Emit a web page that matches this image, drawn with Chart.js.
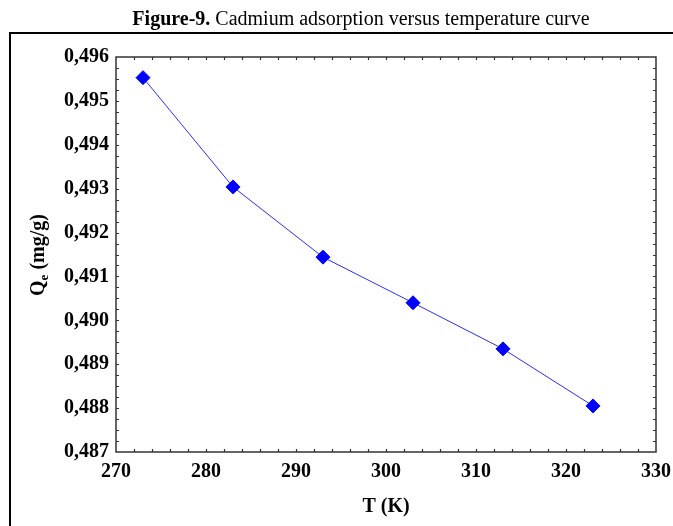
<!DOCTYPE html>
<html><head><meta charset="utf-8">
<script src="https://cdn.jsdelivr.net/npm/chart.js@4.4.0/dist/chart.umd.min.js"></script>
<style>html,body{margin:0;padding:0;background:#fff;overflow:hidden}#wrap{position:relative;width:673px;height:526px}</style>
</head><body><div id="wrap"><canvas id="c" width="673" height="526"></canvas></div>
<script>
const temperatures = [273, 283, 293, 303, 313, 323];
const qeValues = [0.49553, 0.49304, 0.49144, 0.49040, 0.48935, 0.48805];
const xTicks = [270, 280, 290, 300, 310, 320, 330];
const yTicks = [0.487, 0.488, 0.489, 0.490, 0.491, 0.492, 0.493, 0.494, 0.495, 0.496];
const titleBold = 'Figure-9.';
const titleRest = ' Cadmium adsorption versus temperature curve';
const xTitle = 'T (K)';
const yTitleMain = 'Q';
const yTitleSub = 'e';
const yTitleRest = ' (mg/g)';

const SERIF = "'Liberation Serif', 'Times New Roman', serif";

const decor = {
  id: 'decor',
  afterDraw(chart) {
    const ctx = chart.ctx;
    const a = chart.chartArea;
    const xs = chart.scales.x, ys = chart.scales.y;
    ctx.save();
    // outer frame
    ctx.strokeStyle = '#000';
    ctx.lineWidth = 2;
    ctx.beginPath();
    ctx.moveTo(10, 530);
    ctx.lineTo(10, 33);
    ctx.lineTo(680, 33);
    ctx.stroke();
    // title
    ctx.fillStyle = '#000';
    ctx.textBaseline = 'alphabetic';
    ctx.font = 'bold 20px ' + SERIF;
    const wb = ctx.measureText(titleBold).width;
    ctx.font = '20px ' + SERIF;
    const wr = ctx.measureText(titleRest).width;
    const tx = 361 - (wb + wr) / 2;
    ctx.font = 'bold 20px ' + SERIF;
    ctx.fillText(titleBold, tx, 25);
    ctx.font = '20px ' + SERIF;
    ctx.fillText(titleRest, tx + wb, 25);
    // plot box
    ctx.strokeStyle = '#333';
    ctx.lineWidth = 1.5;
    ctx.strokeRect(a.left, a.top, a.right - a.left, a.bottom - a.top);
    // minor/major ticks inward
    ctx.lineWidth = 1.2;
    ctx.beginPath();
    for (let i = 1; i < 30; i++) {
      const px = Math.round(xs.getPixelForValue(270 + 2 * i)) + 0.5;
      ctx.moveTo(px, a.bottom); ctx.lineTo(px, a.bottom - 3);
      ctx.moveTo(px, a.top); ctx.lineTo(px, a.top + 3);
    }
    for (let i = 1; i < 36; i++) {
      const py = Math.round(ys.getPixelForValue(0.487 + 0.00025 * i)) + 0.5;
      ctx.moveTo(a.left, py); ctx.lineTo(a.left + 3, py);
      ctx.moveTo(a.right, py); ctx.lineTo(a.right - 3, py);
    }
    ctx.stroke();
    // x title
    ctx.fillStyle = '#000';
    ctx.font = 'bold 20px ' + SERIF;
    ctx.textAlign = 'center';
    ctx.fillText(xTitle, (a.left + a.right) / 2, 512);
    // y title with subscript
    ctx.translate(44, 255);
    ctx.rotate(-Math.PI / 2);
    ctx.textAlign = 'left';
    ctx.font = 'bold 20px ' + SERIF;
    const wq = ctx.measureText(yTitleMain).width;
    const wrest = ctx.measureText(yTitleRest).width;
    ctx.font = 'bold 13px ' + SERIF;
    const we = ctx.measureText(yTitleSub).width;
    const total = wq + we + wrest;
    let cx = -total / 2;
    ctx.font = 'bold 20px ' + SERIF;
    ctx.fillText(yTitleMain, cx, 0);
    cx += wq;
    ctx.font = 'bold 13px ' + SERIF;
    ctx.fillText(yTitleSub, cx, 4);
    cx += we;
    ctx.font = 'bold 20px ' + SERIF;
    ctx.fillText(yTitleRest, cx, 0);
    ctx.restore();
  }
};

new Chart(document.getElementById('c'), {
  type: 'line',
  data: {
    datasets: [{
      data: temperatures.map((t, i) => ({ x: t, y: qeValues[i] })),
      borderColor: '#2b2bff',
      borderWidth: 1,
      backgroundColor: '#0000ff',
      pointStyle: 'rectRot',
      pointRadius: 7,
      pointBorderWidth: 1,
      pointBorderColor: '#0000ff',
      pointBackgroundColor: '#0000ff',
      tension: 0
    }]
  },
  options: {
    responsive: false,
    animation: false,
    devicePixelRatio: 1,
    layout: { padding: { left: 0, top: 57, right: 17, bottom: 0 } },
    plugins: { legend: { display: false }, tooltip: { enabled: false }, title: { display: false } },
    scales: {
      x: {
        type: 'linear', min: 270, max: 330,
        afterBuildTicks: s => { s.ticks = xTicks.map(v => ({ value: v })); },
        afterFit: s => { s.height = 74; s.paddingRight = 0; s.paddingLeft = 0; },
        grid: { display: false, drawTicks: false },
        border: { display: false },
        ticks: { padding: 8, color: '#000', font: { family: SERIF, size: 20, weight: 'bold' }, maxRotation: 0, callback: v => String(v) }
      },
      y: {
        type: 'linear', min: 0.487, max: 0.496,
        afterBuildTicks: s => { s.ticks = yTicks.map(v => ({ value: v })); },
        afterFit: s => { s.width = 116; s.paddingTop = 0; s.paddingBottom = 0; },
        grid: { display: false, drawTicks: false },
        border: { display: false },
        ticks: { padding: 7, color: '#000', font: { family: SERIF, size: 20, weight: 'bold' }, callback: v => Number(v).toFixed(3).replace('.', ',') }
      }
    }
  },
  plugins: [decor]
});
</script></body></html>
